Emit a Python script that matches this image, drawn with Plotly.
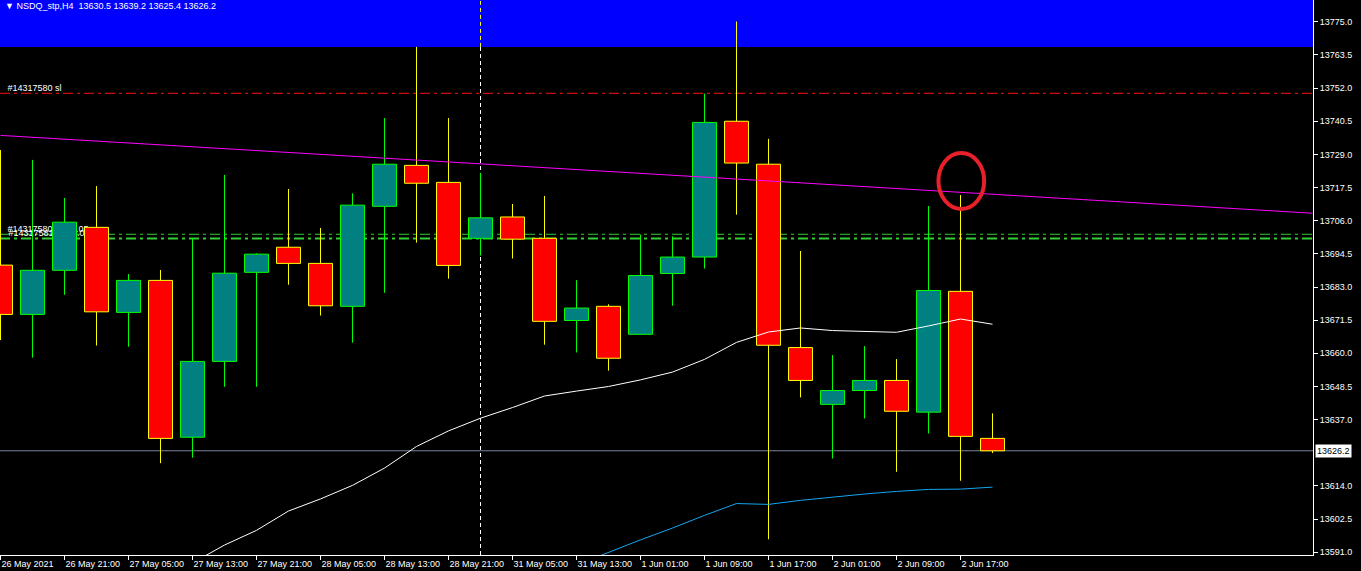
import plotly.graph_objects as go

# ---------------- data ----------------
symbol = "NSDQ_stp,H4"
bar_idx = list(range(32))
open_ = [13690.6, 13673.5, 13688.8, 13703.7, 13674.2, 13685.3, 13630.9, 13657.2,
         13688.1, 13696.8, 13691.2, 13676.3, 13711.0, 13725.2, 13719.3, 13699.9,
         13707.3, 13699.9, 13671.4, 13676.3, 13666.6, 13687.7, 13693.4, 13740.5,
         13725.6, 13662.0, 13642.3, 13647.1, 13650.6, 13639.6, 13681.5, 13630.5]
high = [13730.5, 13727.1, 13713.9, 13718.0, 13687.5, 13688.9, 13699.9, 13721.9,
        13694.7, 13717.0, 13703.5, 13715.5, 13741.6, 13766.3, 13741.6, 13722.6,
        13711.8, 13714.6, 13685.4, 13677.0, 13701.2, 13700.6, 13750.1, 13775.1,
        13734.4, 13695.5, 13659.4, 13662.5, 13658.0, 13711.1, 13714.9, 13639.2]
low = [13664.6, 13658.5, 13680.3, 13662.7, 13662.3, 13621.9, 13623.8, 13648.4,
       13648.4, 13683.8, 13673.1, 13663.7, 13681.0, 13698.4, 13685.9, 13693.9,
       13692.9, 13663.0, 13660.3, 13654.0, 13666.6, 13676.5, 13689.4, 13708.1,
       13595.5, 13644.7, 13623.5, 13637.4, 13618.9, 13632.2, 13615.8, 13625.4]
close = [13673.5, 13688.8, 13705.5, 13674.4, 13685.3, 13630.5, 13657.2, 13687.8,
         13694.4, 13691.2, 13676.5, 13711.4, 13725.6, 13719.0, 13690.5, 13707.0,
         13699.6, 13671.1, 13675.7, 13658.3, 13687.0, 13693.4, 13740.1, 13726.0,
         13662.8, 13650.6, 13647.1, 13650.6, 13639.9, 13681.8, 13631.2, 13626.2]

tick_idx = [0, 2, 4, 6, 8, 10, 12, 14, 16, 18, 20, 22, 24, 26, 28, 30]
tick_text = ["26 May 2021", "26 May 21:00", "27 May 05:00", "27 May 13:00",
             "27 May 21:00", "28 May 05:00", "28 May 13:00", "28 May 21:00",
             "31 May 05:00", "31 May 13:00", "1 Jun 01:00", "1 Jun 09:00",
             "1 Jun 17:00", "2 Jun 01:00", "2 Jun 09:00", "2 Jun 17:00"]
price_ticks = [13775.0, 13763.5, 13752.0, 13740.5, 13729.0, 13717.5, 13706.0,
               13694.5, 13683.0, 13671.5, 13660.0, 13648.5, 13637.0, 13614.0,
               13602.5, 13591.0]

ma_white_idx = list(range(6, 32))
ma_white = [13587.3, 13593.5, 13598.6, 13605.3, 13609.5, 13614.2, 13620.2, 13627.7,
            13633.1, 13637.5, 13641.2, 13645.2, 13646.9, 13648.5, 13650.8, 13653.5,
            13657.9, 13663.8, 13667.4, 13668.8, 13667.9, 13667.6, 13667.3, 13669.5,
            13671.9, 13670.1]
ma_blue_idx = list(range(18, 32))
ma_blue = [13586.6, 13591.0, 13595.3, 13599.4, 13603.8, 13607.9, 13607.6, 13609.0,
           13610.2, 13611.2, 13612.1, 13612.8, 13612.9, 13613.6]

trend_x = [0, 41]
trend_y = [13735.6, 13708.6]

sl_price = 13750.2
sl_label = "#14317580 sl"
entry_prices = [13701.3, 13699.8]
entry_labels = ["#14317580 sell 0.05", "#14317581 sell 0.05"]
zone_low = 13766.3
separator_idx = 15
circle_idx = 30
circle_price = 13719.8

# ---------------- layout constants ----------------
W, H = 1361, 571
ML, MR, MT, MB = 0, 48, 0, 16
PX_PER_BAR = 32.0
plot_w = W - ML - MR
x_range = [-0.5 / PX_PER_BAR, (plot_w - 0.5) / PX_PER_BAR]
y_range = [13590.05, 13782.56]
FONT = "Liberation Sans, Arial, sans-serif"

BULL_FILL, BULL_EDGE = "#008080", "#00FF00"
BEAR_FILL, BEAR_EDGE = "#FF0000", "#FFFF00"

fig = go.Figure()

# ---------- base layer (behind candles) ----------
fig.add_shape(type="rect", xref="paper", yref="y", x0=0, x1=1,
              y0=zone_low, y1=y_range[1], fillcolor="#0000FF",
              line_width=0, layer="below")

# order lines
fig.add_trace(go.Scatter(x=[x_range[0], x_range[1]], y=[sl_price, sl_price],
                         mode="lines", line=dict(color="#FF1010", width=1,
                                                 dash="10px,4px,3px,4px"),
                         hoverinfo="skip", xaxis="x", yaxis="y"))
for p, w in zip(entry_prices, [1, 2]):
    fig.add_trace(go.Scatter(x=[x_range[0], x_range[1]], y=[p, p], mode="lines",
                             line=dict(color="#32CD32", width=w,
                                       dash="10px,4px,3px,4px"),
                             hoverinfo="skip", xaxis="x", yaxis="y"))
# current price line
fig.add_trace(go.Scatter(x=[x_range[0], x_range[1]], y=[close[-1], close[-1]],
                         mode="lines", line=dict(color="#778899", width=1),
                         hoverinfo="skip", xaxis="x", yaxis="y"))
# period separator
fig.add_trace(go.Scatter(x=[separator_idx, separator_idx], y=[y_range[0], zone_low],
                         mode="lines", line=dict(color="#FFFFFF", width=1, dash="4px,3px"),
                         hoverinfo="skip", xaxis="x", yaxis="y"))
fig.add_trace(go.Scatter(x=[separator_idx, separator_idx], y=[zone_low, y_range[1]],
                         mode="lines", line=dict(color="#FFFF00", width=1, dash="4px,3px"),
                         hoverinfo="skip", xaxis="x", yaxis="y"))
# order labels
lbl_x = 7 / PX_PER_BAR
fig.add_trace(go.Scatter(x=[lbl_x], y=[sl_price], mode="text", text=[sl_label],
                         textposition="top right",
                         textfont=dict(family=FONT, size=9, color="#FFFFFF"),
                         hoverinfo="skip", xaxis="x", yaxis="y"))
fig.add_trace(go.Scatter(x=[lbl_x, lbl_x + 0.03], y=entry_prices, mode="text",
                         text=entry_labels, textposition="top right",
                         textfont=dict(family=FONT, size=9, color="#FFFFFF"),
                         hoverinfo="skip", xaxis="x", yaxis="y"))

# ---------- overlay layer (candles + indicators) ----------
up = [c >= o for o, c in zip(open_, close)]
body_base = [min(o, c) for o, c in zip(open_, close)]
body_h = [abs(c - o) for o, c in zip(open_, close)]
fig.add_trace(go.Bar(x=bar_idx, y=body_h, base=body_base, width=0.75,
                     marker=dict(color=[BULL_FILL if u else BEAR_FILL for u in up],
                                 line=dict(color=[BULL_EDGE if u else BEAR_EDGE for u in up],
                                           width=1)),
                     hoverinfo="skip", xaxis="x2", yaxis="y2"))


def wicks(want_up):
    xs, ys = [], []
    for i, o, h, l, c, u in zip(bar_idx, open_, high, low, close, up):
        if u != want_up:
            continue
        top, bot = max(o, c), min(o, c)
        if h > top:
            xs += [i, i, None]
            ys += [h, top, None]
        if l < bot:
            xs += [i, i, None]
            ys += [bot, l, None]
    return xs, ys


for flag, col in [(True, BULL_EDGE), (False, BEAR_EDGE)]:
    wx, wy = wicks(flag)
    fig.add_trace(go.Scatter(x=wx, y=wy, mode="lines", line=dict(color=col, width=1),
                             hoverinfo="skip", xaxis="x2", yaxis="y2"))

fig.add_trace(go.Scatter(x=ma_white_idx, y=ma_white, mode="lines",
                         line=dict(color="#FFFFFF", width=1),
                         hoverinfo="skip", xaxis="x2", yaxis="y2"))
fig.add_trace(go.Scatter(x=ma_blue_idx, y=ma_blue, mode="lines",
                         line=dict(color="#12A6F2", width=1),
                         hoverinfo="skip", xaxis="x2", yaxis="y2"))
fig.add_trace(go.Scatter(x=trend_x, y=trend_y, mode="lines",
                         line=dict(color="#FF00FF", width=1),
                         hoverinfo="skip", xaxis="x2", yaxis="y2"))

fig.add_shape(type="circle", xref="x2", yref="y2",
              x0=circle_idx - 0.69, x1=circle_idx + 0.74,
              y0=circle_price - 9.7, y1=circle_price + 9.7,
              line=dict(color="#E8202A", width=4), layer="above")

# annotations: title + current price box
title = "\u25BC {}  {:.1f} {:.1f} {:.1f} {:.1f}".format(symbol, open_[-1], high[-1],
                                                      low[-1], close[-1])
fig.add_annotation(text=title, xref="paper", yref="paper", x=0, y=1,
                   xanchor="left", yanchor="top", xshift=4, yshift=0,
                   showarrow=False, borderpad=0,
                   font=dict(family=FONT, size=9, color="#FFFFFF"))
fig.add_annotation(text="{:.1f}".format(close[-1]), xref="paper", yref="y",
                   x=1, y=close[-1], xanchor="left", yanchor="middle", xshift=2,
                   showarrow=False, bgcolor="#FFFFFF", borderpad=1,
                   font=dict(family=FONT, size=9, color="#000000"))

axis_common = dict(showgrid=False, zeroline=False, automargin=False)
fig.update_layout(
    width=W, height=H,
    margin=dict(l=ML, r=MR, t=MT, b=MB, pad=0),
    paper_bgcolor="#000000", plot_bgcolor="#000000",
    showlegend=False, bargap=0,
    font=dict(family=FONT, size=9, color="#FFFFFF"),
    xaxis=dict(range=x_range, tickvals=tick_idx, ticktext=tick_text,
               ticks="outside", ticklen=4, tickcolor="#FFFFFF",
               ticklabelposition="outside right",
               showline=True, linecolor="#FFFFFF", linewidth=1,
               tickfont=dict(family=FONT, size=9, color="#FFFFFF"), **axis_common),
    yaxis=dict(range=y_range, side="right", tickvals=price_ticks, tickformat=".1f",
               ticks="outside", ticklen=4, tickcolor="#FFFFFF",
               showline=True, linecolor="#FFFFFF", linewidth=1,
               tickfont=dict(family=FONT, size=9, color="#FFFFFF"), **axis_common),
    xaxis2=dict(range=x_range, overlaying="x", visible=False, **axis_common),
    yaxis2=dict(range=y_range, overlaying="y", visible=False, **axis_common),
)

fig.write_html("out.html", config={"displayModeBar": False, "staticPlot": True},
               post_script="document.body.style.margin='0';"
                           "document.body.style.overflow='hidden';")
